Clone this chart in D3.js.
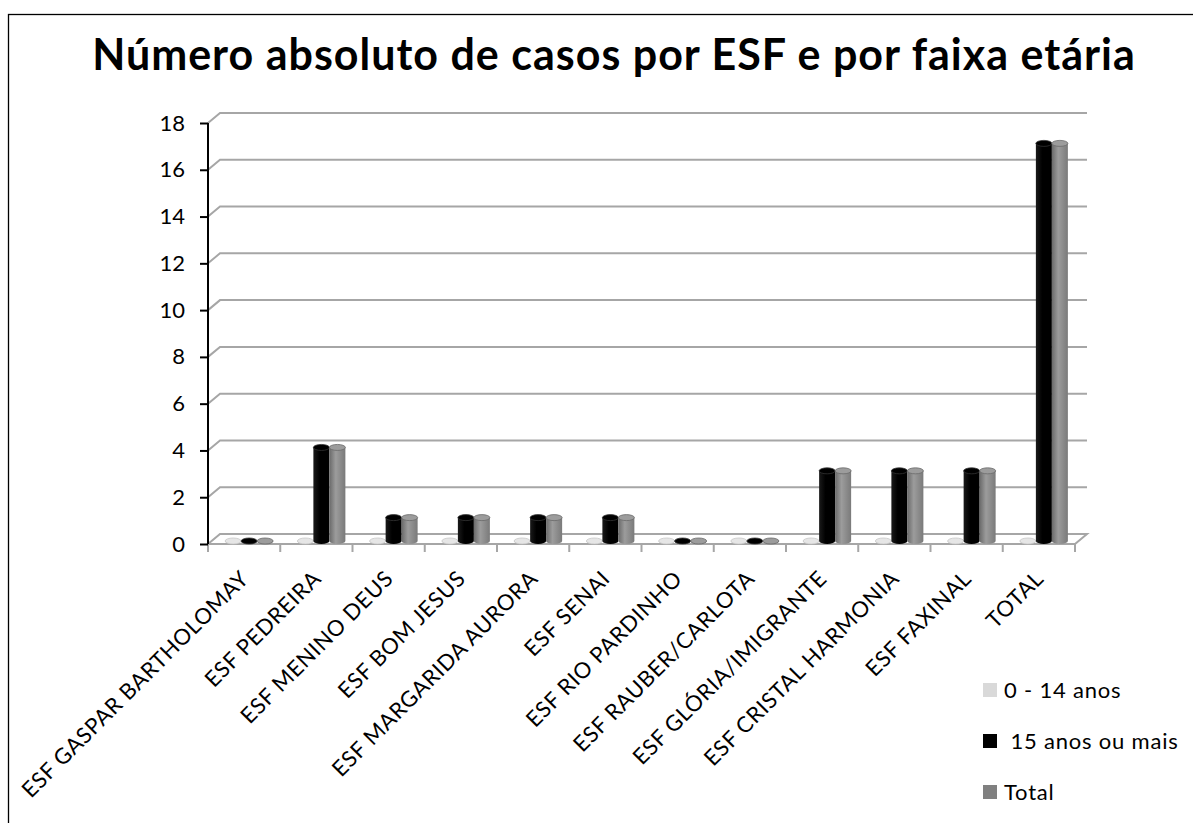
<!DOCTYPE html>
<html>
<head>
<meta charset="utf-8">
<style>
  html, body { margin: 0; padding: 0; background: #fff; }
  svg { display: block; }
  text { font-family: Lato, "Open Sans", sans-serif; fill: #000; }
</style>
</head>
<body>
<svg id="chart" width="1193" height="823"></svg>
<script src="https://cdn.jsdelivr.net/npm/d3@7"></script>
<script>
const categories = [
  "ESF GASPAR BARTHOLOMAY", "ESF PEDREIRA", "ESF MENINO DEUS", "ESF BOM JESUS",
  "ESF MARGARIDA AURORA", "ESF SENAI", "ESF RIO PARDINHO", "ESF RAUBER/CARLOTA",
  "ESF GLÓRIA/IMIGRANTE", "ESF CRISTAL HARMONIA", "ESF FAXINAL", "TOTAL"
];
const seriesNames = ["0 - 14 anos", " 15 anos ou mais", "Total"];
const ages0to14 = [0, 0, 0, 0, 0, 0, 0, 0, 0, 0, 0, 0];
const ages15plus = [0, 4, 1, 1, 1, 1, 0, 0, 3, 3, 3, 17];
const totals = [0, 4, 1, 1, 1, 1, 0, 0, 3, 3, 3, 17];
const yTicks = [0, 2, 4, 6, 8, 10, 12, 14, 16, 18];

const seriesValues = [ages0to14, ages15plus, totals];
const colors = [
  ["#c8c8c8", "#e6e6e6", "#d0d0d0"],
  ["#1a1a1a", "#000000", "#000000"],
  ["#6a6a6a", "#9c9c9c", "#7a7a7a"]
];

const svg = d3.select("#chart");
const left = 208, right = 1075, depthX = 12, depthY = -10;

const x = d3.scaleBand().domain(categories).range([left, right]);
const xs = d3.scaleBand().domain(d3.range(3)).range([0, 48]);
const y = d3.scaleLinear().domain([0, 18]).range([544, 123]);

// outer border
svg.append("rect").attr("x", 8.5).attr("y", 14.5).attr("width", 1300).attr("height", 900)
  .attr("fill", "none").attr("stroke", "#000").attr("stroke-width", 1.3);

// title
svg.append("text").attr("x", 614).attr("y", 70).attr("text-anchor", "middle")
  .style("font-size", "43px").style("font-weight", "bold").style("letter-spacing", "1px")
  .text("Número absoluto de casos por ESF e por faixa etária");

// gradients
const defs = svg.append("defs");
colors.forEach((c, i) => {
  const g = defs.append("linearGradient").attr("id", "cyl" + i);
  g.append("stop").attr("offset", "0%").attr("stop-color", c[0]);
  g.append("stop").attr("offset", "40%").attr("stop-color", c[1]);
  g.append("stop").attr("offset", "100%").attr("stop-color", c[2]);
});

// floor
svg.append("path")
  .attr("d", `M${left},${y(0)}L${right},${y(0)}L${right + depthX},${y(0) + depthY}L${left + depthX},${y(0) + depthY}Z`)
  .attr("fill", "#fff").attr("stroke", "#a6a6a6").attr("stroke-width", 2);

// gridlines on the walls
svg.append("g").selectAll("path")
  .data(yTicks.slice(1))
  .join("path")
  .attr("d", d => `M${left},${y(d)}L${left + depthX},${y(d) + depthY}L${right + depthX},${y(d) + depthY}`)
  .attr("fill", "none").attr("stroke", "#a6a6a6").attr("stroke-width", 2);

// category ticks
svg.append("g").selectAll("line")
  .data(d3.range(categories.length + 1))
  .join("line")
  .attr("x1", i => left + i * x.step()).attr("x2", i => left + i * x.step())
  .attr("y1", y(0)).attr("y2", y(0) + 8)
  .attr("stroke", "#a6a6a6").attr("stroke-width", 2);

// y axis
const yAxis = svg.append("g").attr("transform", `translate(${left},0)`)
  .call(d3.axisLeft(y).tickValues(yTicks).tickSize(8).tickPadding(15));
yAxis.select(".domain").attr("stroke", "#000").attr("stroke-width", 2)
  .attr("d", `M0,${y(0)}V${y(18)}`);
yAxis.selectAll(".tick line").attr("stroke", "#000").attr("stroke-width", 2);
yAxis.selectAll(".tick text").style("font-size", "22px")
  .style("font-family", "Lato, sans-serif").attr("fill", "#000");

// bars as cylinders
const bars = [];
categories.forEach((c, ci) => {
  seriesValues.forEach((vals, si) => {
    bars.push({ c, si, v: vals[ci] });
  });
});
const rx = xs.bandwidth() / 2, ry = 3, barDy = -3;
const barG = svg.append("g");
const gb = barG.selectAll("g").data(bars).join("g")
  .attr("transform", d => `translate(${x(d.c) + x.bandwidth() / 2 - 19 + xs(d.si)},${barDy})`);
gb.append("path")
  .attr("d", d => {
    const y0 = y(0), y1 = y(d.v);
    return `M0,${y1}L0,${y0}A${rx},${ry} 0 0 0 ${2 * rx},${y0}L${2 * rx},${y1}Z`;
  })
  .attr("fill", d => `url(#cyl${d.si})`);
gb.append("ellipse")
  .attr("cx", rx).attr("cy", d => y(d.v)).attr("rx", rx).attr("ry", ry)
  .attr("fill", d => colors[d.si][1])
  .attr("stroke", d => d.si === 1 ? "#333" : colors[d.si][0]).attr("stroke-width", 0.8);

// category labels
svg.append("g").selectAll("text")
  .data(categories)
  .join("text")
  .attr("transform", d => `translate(${x(d) + x.bandwidth() / 2 + 6},${y(0) + 36}) rotate(-45)`)
  .attr("text-anchor", "end")
  .style("font-size", "22px").style("letter-spacing", "0.6px")
  .text(d => d);

// legend
const legend = svg.append("g").selectAll("g").data(seriesNames).join("g")
  .attr("transform", (d, i) => `translate(983,${690 + i * 51})`);
legend.append("rect").attr("x", 0).attr("y", -7).attr("width", 14).attr("height", 14)
  .attr("fill", (d, i) => i === 0 ? "#d9d9d9" : i === 1 ? "#000" : "#808080");
legend.append("text").attr("x", 21).attr("y", 8).style("font-size", "22px")
  .style("letter-spacing", "0.8px").style("white-space", "pre")
  .text(d => d);
</script>
</body>
</html>
